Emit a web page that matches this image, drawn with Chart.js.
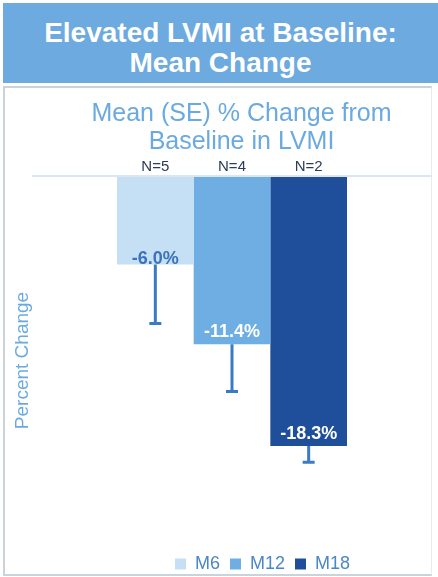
<!DOCTYPE html>
<html>
<head>
<meta charset="utf-8">
<script src="https://cdn.jsdelivr.net/npm/chart.js@4"></script>
<style>
  body { margin: 0; width: 438px; height: 577px; position: relative; background: #fff; font-family: "Liberation Sans", Arial, sans-serif; overflow: hidden; }
  #header { position: absolute; left: 3px; top: 3px; width: 435px; height: 80px; background: #6daae0; color: #fff; font-weight: bold; font-size: 28px; line-height: 30px; text-align: center; box-sizing: border-box; padding-top: 15px; }
  #panel { position: absolute; left: 3px; top: 86px; width: 429px; height: 490px; box-sizing: border-box; border: 2px solid #c9d3d9; border-right: 1px solid #e6ecef; }
  #wrap { position: absolute; left: 0; top: 0; width: 438px; height: 577px; }
</style>
</head>
<body>
<div id="header">Elevated LVMI at Baseline:<br>Mean Change</div>
<div id="panel"></div>
<div id="wrap"><canvas id="myChart"></canvas></div>
<script>
// data
const series = ['M6', 'M12', 'M18'];
const meanChange = [-6.0, -11.4, -18.3];
const stdErr = [4.0, 3.2, 1.1];
const counts = [5, 4, 2];

// styling
const colors = ['#c5dff4', '#6eaee2', '#1f4e9a'];
const labelColors = ['#3b72ba', '#ffffff', '#ffffff'];
const labelLift = [6, 12, 12];

// error bars, value labels and N labels
const barExtras = {
  id: 'barExtras',
  afterLayout(chart) {
    // legend and subtitle sit right of centre in the original
    chart.legend.left += 40;
    chart.legend.right += 40;
    chart.titleBlock.left += 19;
    chart.titleBlock.right += 19;
  },
  afterDatasetsDraw(chart) {
    const ctx = chart.ctx;
    const yScale = chart.scales.y;
    ctx.save();
    chart.data.datasets.forEach((ds, i) => {
      const bar = chart.getDatasetMeta(i).data[0];
      const yEnd = yScale.getPixelForValue(meanChange[i] - stdErr[i]);
      // error bar
      ctx.strokeStyle = '#3a7bc6';
      ctx.lineWidth = 3;
      ctx.beginPath();
      ctx.moveTo(bar.x, bar.y);
      ctx.lineTo(bar.x, yEnd);
      ctx.moveTo(bar.x - 6, yEnd);
      ctx.lineTo(bar.x + 6, yEnd);
      ctx.stroke();
      // value label
      ctx.fillStyle = labelColors[i];
      ctx.font = 'bold 18px "Liberation Sans", Arial, sans-serif';
      ctx.textAlign = 'center';
      ctx.textBaseline = 'middle';
      ctx.fillText(meanChange[i].toFixed(1) + '%', bar.x, bar.y - labelLift[i]);
      // N label
      ctx.fillStyle = '#2b3b58';
      ctx.font = '15px "Liberation Sans", Arial, sans-serif';
      ctx.fillText('N=' + counts[i], bar.x, yScale.getPixelForValue(0) - 9);
    });
    ctx.restore();
  }
};

const config = {
  type: 'bar',
  data: {
    labels: [''],
    datasets: series.map((s, i) => ({
      label: s,
      data: [meanChange[i]],
      backgroundColor: colors[i],
      borderWidth: 0,
      barPercentage: 1,
      categoryPercentage: 0.575
    }))
  },
  options: {
    responsive: true,
    maintainAspectRatio: false,
    animation: false,
    layout: { padding: { top: 100, left: 13, right: 6, bottom: -6 } },
    scales: {
      x: { display: false },
      y: {
        min: -25,
        max: 0,
        ticks: { display: false, stepSize: 1 },
        border: { display: false },
        grid: {
          drawTicks: false,
          lineWidth: 2,
          color: (c) => c.tick && c.tick.value === 0 ? '#dce6f0' : 'transparent'
        },
        title: {
          display: true,
          text: 'Percent Change',
          color: '#6aaae0',
          font: { family: '"Liberation Sans", Arial, sans-serif', size: 19, lineHeight: 1 },
          padding: { top: 0, bottom: 0 }
        }
      }
    },
    plugins: {
      title: {
        display: true,
        text: ['Mean (SE) % Change from', 'Baseline in LVMI'],
        color: '#6aaae0',
        font: { family: '"Liberation Sans", Arial, sans-serif', size: 25, weight: 'normal', lineHeight: 1.12 },
        padding: { top: 0, bottom: 20 }
      },
      legend: {
        position: 'bottom',
        labels: {
          boxWidth: 11,
          boxHeight: 11,
          padding: 10,
          color: '#4a86c8',
          font: { family: '"Liberation Sans", Arial, sans-serif', size: 18 }
        }
      },
      tooltip: { enabled: false }
    }
  },
  plugins: [barExtras]
};

const myChart = new Chart(document.getElementById('myChart'), config);
</script>
</body>
</html>
